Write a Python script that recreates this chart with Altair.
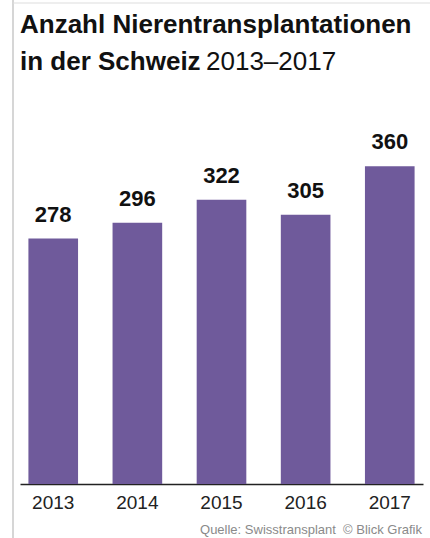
import altair as alt
import pandas as pd

years = ["2013", "2014", "2015", "2016", "2017"]
values = [278, 296, 322, 305, 360]

title_line1 = "Anzahl Nierentransplantationen"
title_line2_bold = "in der Schweiz"
title_line2_regular = "2013–2017"
source = "Quelle: Swisstransplant\u00a0\u00a0© Blick Grafik"

FONT = "Liberation Sans, Arial, sans-serif"
BAR = "#6f5a9b"

df = pd.DataFrame({"Jahr": years, "Anzahl": values})
one = pd.DataFrame({"k": [0]})

base = alt.Chart(df)

x_enc = alt.X(
    "Jahr:N",
    sort=years,
    scale=alt.Scale(paddingInner=0.41, paddingOuter=0.1),
    axis=alt.Axis(
        title=None, labelAngle=0, labelFont=FONT, labelFontSize=19,
        labelColor="#222222", ticks=False, domainColor="#222222",
        domainWidth=1.5, labelPadding=9,
    ),
)
y_enc = alt.Y("Anzahl:Q", scale=alt.Scale(domain=[0, 401]), axis=None)

bars = base.mark_bar(color=BAR).encode(x=x_enc, y=y_enc)
labels = base.mark_text(
    dy=-17, baseline="alphabetic", align="center", font=FONT,
    fontWeight="bold", fontSize=22, color="#111111",
).encode(x=alt.X("Jahr:N", sort=years), y=y_enc, text="Anzahl:Q")

t1 = alt.Chart(one).mark_text(
    text=title_line1, align="left", baseline="alphabetic", font=FONT,
    fontWeight="bold", fontSize=26, color="#111111",
).encode(x=alt.value(0), y=alt.value(-97))
t2 = alt.Chart(one).mark_text(
    text=title_line2_bold, align="left", baseline="alphabetic", font=FONT,
    fontWeight="bold", fontSize=26, color="#111111",
).encode(x=alt.value(0), y=alt.value(-60))
t3 = alt.Chart(one).mark_text(
    text=title_line2_regular, align="left", baseline="alphabetic", font=FONT,
    fontWeight="normal", fontSize=26, color="#111111",
).encode(x=alt.value(186), y=alt.value(-60))
src = alt.Chart(one).mark_text(
    text=source, align="right", baseline="alphabetic", font=FONT,
    fontSize=13, color="#8a8a8a",
).encode(x=alt.value(402), y=alt.value(404))

left_border = alt.Chart(one).mark_rule(color="#c8c8c8", strokeWidth=1.5).encode(
    x=alt.value(-7), y=alt.value(-130), y2=alt.value(408)
)
top_border = alt.Chart(one).mark_rule(color="#dddddd", strokeWidth=1).encode(
    x=alt.value(-7), x2=alt.value(410), y=alt.value(-127)
)

chart = alt.layer(
    left_border, top_border, bars, labels, t1, t2, t3, src
).properties(
    width=403, height=354,
    autosize=alt.AutoSizeParams(type="none"),
    padding={"left": 20, "top": 130, "right": 7, "bottom": 54},
    background="white",
).configure_view(stroke=None)

chart.save("out.html", embed_options={"renderer": "svg", "actions": False})
